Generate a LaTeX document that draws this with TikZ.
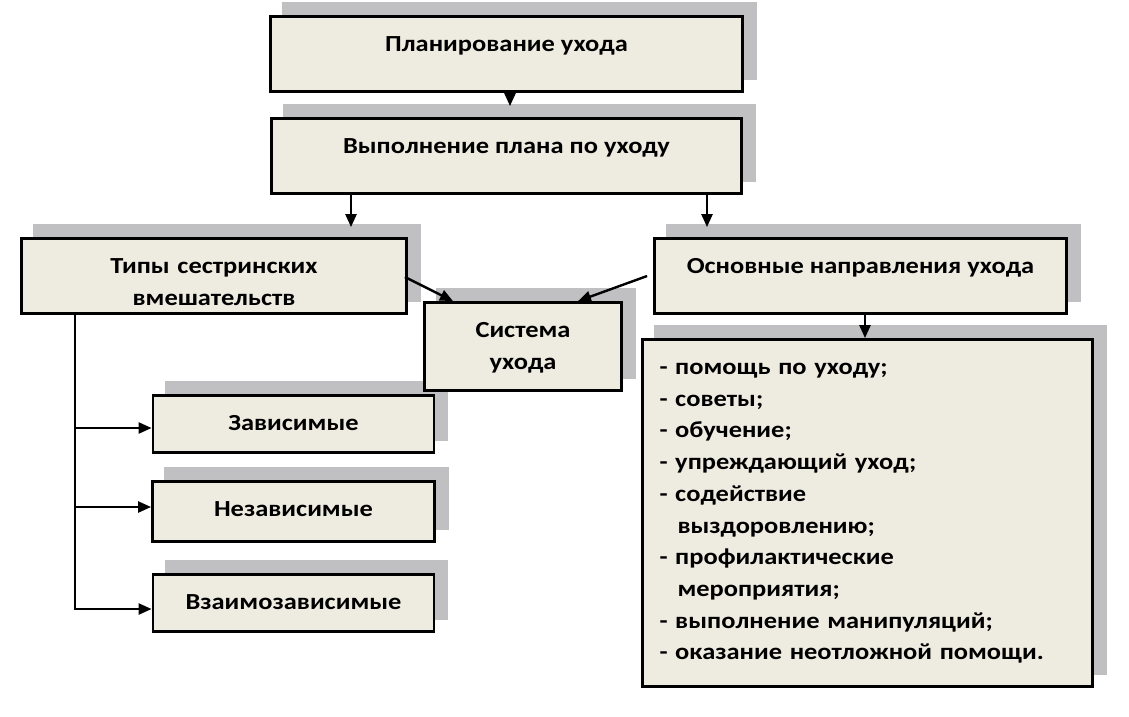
\documentclass[tikz,border=0pt]{standalone}
\usepackage{fontspec}
\setmainfont{Carlito}[FakeStretch=1.15]
\usetikzlibrary{positioning,shadows,arrows.meta}

\definecolor{boxfill}{RGB}{238,236,225}
\definecolor{shadowgray}{RGB}{192,191,194}

\tikzset{
  box/.style={draw, line width=2.8pt, fill=boxfill, inner xsep=6pt, inner ysep=0pt,
    text height=35pt, align=center, font=\bfseries\fontsize{23}{31.7}\selectfont,
    drop shadow={shadow xshift=13pt, shadow yshift=13pt, fill=shadowgray, draw=shadowgray, opacity=1}},
  listbox/.style={box, align=left, inner xsep=17pt, text width=416pt},
  link/.style={->, line width=2.4pt}
}

\begin{document}
\begin{tikzpicture}[x=1pt, y=-1pt, >={Triangle[length=13pt,width=11pt]}, on grid]
   \useasboundingbox (0,0) rectangle (1129,716);
   % top chain
   \node[box, minimum width=472pt, text depth=40pt] (plan) at (506.5,54) {Планирование ухода};
   \node[box, minimum width=470pt, text depth=40pt] (exec) [below=102pt of plan] {Выполнение плана по уходу};
   \node[box, text width=373pt, text depth=40pt] (types) at (214,276) {Типы сестринских\\вмешательств};
   \node[box, minimum width=412pt, text depth=40pt] (dirs) at (860.5,276) {Основные направления ухода};
   % types of interventions
   \node[box, minimum width=281pt, text depth=22pt] (dep) at (293.5,424) {Зависимые};
   \node[box, minimum width=282pt, text depth=25pt] (indep) [below=87.5pt of dep] {Независимые};
   \node[box, minimum width=281pt, text depth=22pt] (inter) [below=91.5pt of indep] {Взаимозависимые};
   \node[box, text width=185pt, text depth=53pt] (sys) at (523,346.5) {Система\\ухода};
   % directions of care
   \node[listbox, text depth=312pt] (list) at (867.5,513) {- помощь по уходу;\\
      - советы;\\
      - обучение;\\
      - упреждающий уход;\\
      - содействие\\
      \hspace*{18pt}выздоровлению;\\
      - профилактические\\
      \hspace*{18pt}мероприятия;\\
      - выполнение манипуляций;\\
      - оказание неотложной помощи.};
   \coordinate (trunk) at (75,0);

   \draw[link, shorten >=11pt] ([xshift=3.5pt]plan.south) -- ([xshift=3.5pt]plan.south |- exec.north);
   \draw[link, shorten >=10pt] ([xshift=-155.5pt]exec.south) -- ([xshift=-155.5pt]exec.south |- types.north);
   \draw[link, shorten >=10pt] ([xshift=200.5pt]exec.south) -- ([xshift=200.5pt]exec.south |- dirs.north);
   \draw[link] ([xshift=-3pt,yshift=-1pt]types.east) -- ([xshift=-70pt]sys.north);
   \draw[link] ([xshift=-6pt]dirs.west) -- ([xshift=55pt]sys.north);
   \draw[link] ([xshift=4.5pt]dirs.south) -- ([xshift=4.5pt]dirs.south |- list.north);
   \draw[link] (trunk |- types.south) |- ([yshift=-6pt]inter.west);
   \draw[link] ([yshift=-4pt]dep.west -| trunk) -- ([yshift=-4pt]dep.west);
   \draw[link] ([yshift=4.5pt]indep.west -| trunk) -- ([yshift=4.5pt]indep.west);
\end{tikzpicture}
\end{document}
